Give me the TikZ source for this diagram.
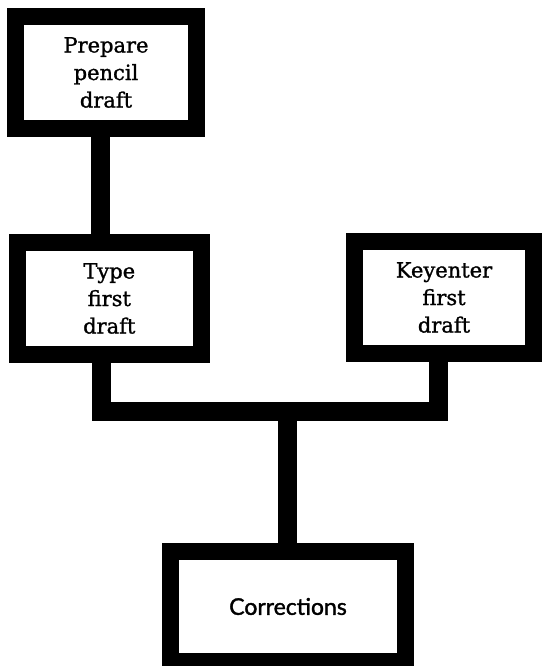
\documentclass[tikz,border=0pt]{standalone}
\usepackage{fontspec}
\setmainfont[FakeBold=1.2]{DejaVu Serif}
\newfontfamily\corrfont[FakeBold=1.5]{Lato}
\usepackage{tikz}

\begin{document}
\begin{tikzpicture}[x=1pt,y=-1pt,
        stepbox/.style={rectangle,draw,line width=17pt,minimum height=112pt,inner sep=0pt,align=center,font=\fontsize{21}{27.5}\selectfont},
        link/.style={draw,line width=19pt}]
        \useasboundingbox (0,0) rectangle (542,666);

        \node [stepbox, minimum width=181pt] (P) at (106,72.5) {Prepare\\pencil\\draft};
        \node [stepbox, minimum width=184pt] (T) at (109.3,298.5) {Type\\first\\draft};
        \node [stepbox, minimum width=179pt] (K) at (444,297.5) {Keyenter\\first\\draft};
        \node [stepbox, minimum width=235pt, minimum height=110pt, font=\corrfont\fontsize{23}{26}\selectfont] (C) at (288,606.5) {Corrections};

        \coordinate (bus) at (0,411.5);

        \draw[link] ([xshift=-6pt]P.south) -- ([xshift=-6pt]P.south |- T.north);
        \draw[link] ([xshift=-8pt]T.south) |- ([xshift=-5.5pt]K.south |- bus) -- ([xshift=-5.5pt]K.south);
        \draw[link] ([xshift=-1pt]C.north |- bus) -- ([xshift=-1pt]C.north);

    \end{tikzpicture}
\end{document}
